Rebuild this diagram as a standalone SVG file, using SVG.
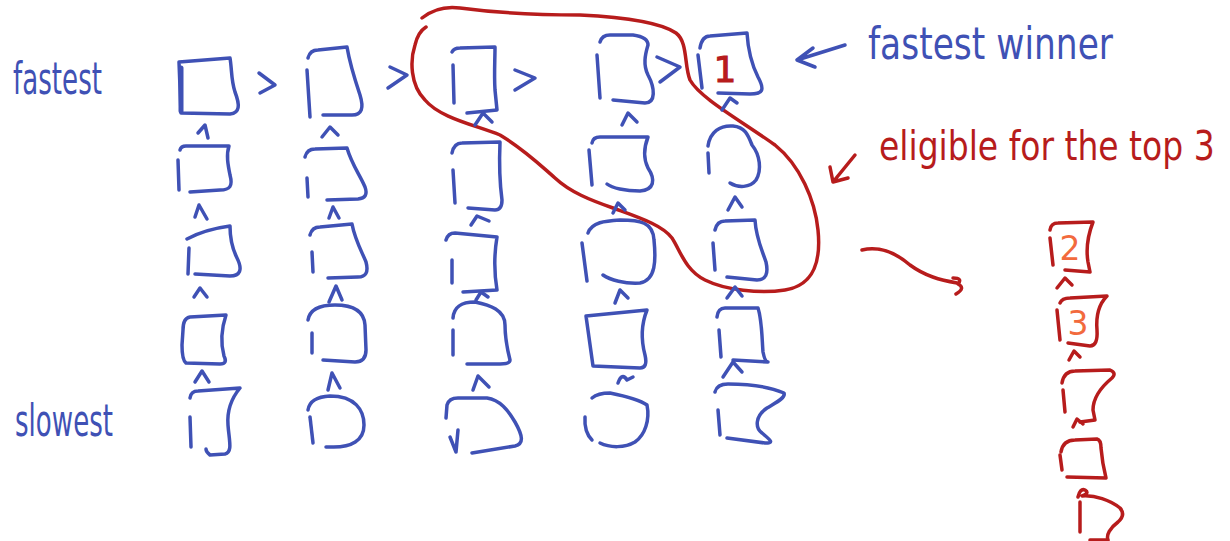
<svg xmlns="http://www.w3.org/2000/svg" width="1230" height="541" viewBox="0 0 1230 541">
<style>
.b{fill:none;stroke:#3f51b5;stroke-width:3.5;stroke-linecap:round;stroke-linejoin:round}
.r{fill:none;stroke:#b71c1c;stroke-width:3.5;stroke-linecap:round;stroke-linejoin:round}
.tb{fill:#3f51b5;font-family:"DejaVu Sans",sans-serif;font-size:44px}
.tr{fill:#b71c1c;font-family:"DejaVu Sans",sans-serif;font-size:33px}
.num{font-family:"DejaVu Sans",sans-serif;text-anchor:middle}
</style>
<rect width="1230" height="541" fill="#ffffff"/>

<g id="labels">
<text class="tb" x="13" y="94" textLength="89" lengthAdjust="spacingAndGlyphs">fastest</text>
<text class="tb" x="15" y="436" textLength="98" lengthAdjust="spacingAndGlyphs">slowest</text>
<text class="tb" x="868" y="59" textLength="245" lengthAdjust="spacingAndGlyphs">fastest winner</text>
<text class="tr" transform="translate(879,160) scale(1,1.25)" x="0" y="0">eligible for the top 3</text>
</g>

<g id="col1">
<g id="c1r1"><path class="b" d="M179,62 L230,58 C232,70 231,80 235,92 C240,105 240,113 230,114 L181,113 Z"/><path class="b" style="stroke-width:5" d="M181,68 L181,111"/></g>
<g id="c1r2"><path class="b" d="M180,150 Q181,146 186,146 L229,146 C226,155 228,165 230,175 C233,186 230,190 220,190 L190,192"/><path class="b" d="M178,160 L179,190"/></g>
<g id="c1r3"><path class="b" d="M187,239 C200,232 215,228 230,226 C230,240 232,248 237,258 C243,270 240,276 230,276 L195,274"/><path class="b" d="M189,248 L188,274"/></g>
<g id="c1r4"><path class="b" d="M183,330 Q183,318 190,317 L226,315 C221,330 221,345 224,356 Q228,364 220,364 L186,363 Q182,360 182,345 Z"/></g>
<g id="c1r5"><path class="b" d="M190,398 Q191,391 198,391 L240,388 C230,400 227,412 228,425 C229,440 233,452 225,454 L210,455 Q206,452 206,449"/><path class="b" d="M190,417 L191,447"/></g>
</g>

<g id="col2">
<g id="c2r1"><path class="b" d="M308,58 Q310,50 318,50 L347,47 C350,65 355,80 360,95 C364,108 362,115 352,115 L323,115"/><path class="b" d="M307,70 L310,117"/></g>
<g id="c2r2"><path class="b" d="M305,157 Q307,149 315,149 L347,148 C352,165 360,175 365,187 Q369,198 358,199 L327,200"/><path class="b" d="M307,178 L308,197"/></g>
<g id="c2r3"><path class="b" d="M310,235 Q312,227 320,227 L352,224 C355,240 362,252 366,262 Q370,277 358,277 L328,278"/><path class="b" d="M312,252 L313,272"/></g>
<g id="c2r4"><path class="b" d="M308,320 C310,308 322,305 335,305 C352,305 364,310 365,325 L366,350 Q366,362 355,362 L323,360"/><path class="b" d="M312,333 L312,353"/></g>
<g id="c2r5"><path class="b" d="M308,410 Q310,397 330,396 C355,396 364,410 364,425 C364,440 352,448 330,447 L326,447"/><path class="b" d="M310,417 L313,443"/></g>
</g>

<g id="col3">
<g id="c3r1"><path class="b" d="M452,52 Q454,48 460,48 L495,47 C495,60 494,75 495,90 L497,110 L467,113"/><path class="b" d="M453,65 L454,103"/></g>
<g id="c3r2"><path class="b" d="M452,153 Q454,143 462,143 L500,142 C499,165 500,185 502,200 Q502,210 495,210 L468,208"/><path class="b" d="M453,170 L455,203"/></g>
<g id="c3r3"><path class="b" d="M446,240 Q448,233 455,233 L497,237 C494,255 494,272 497,290 L463,292"/><path class="b" d="M452,260 L452,283"/></g>
<g id="c3r4"><path class="b" d="M453,318 C454,306 462,302 475,302 C490,305 505,310 505,325 C505,340 508,352 510,360 Q510,364 500,364 L467,364"/><path class="b" d="M453,330 L453,355"/></g>
<g id="c3r5"><path class="b" d="M446,418 L447,405 Q449,398 458,398 L487,398 C500,400 508,410 515,422 C523,436 524,444 515,446 L472,453"/><path class="b" d="M450,437 L456,452 L458,430"/></g>
</g>

<g id="col4">
<g id="c4r1"><path class="b" d="M600,42 Q602,35 610,35 L633,35 Q648,37 648,45 C645,55 643,65 648,75 C655,88 656,103 645,103 L613,100"/><path class="b" d="M597,55 L600,98"/></g>
<g id="c4r2"><path class="b" d="M592,143 Q593,137 600,137 L648,137 C643,150 644,160 648,168 C656,180 654,190 640,191 C625,191 612,188 607,184"/><path class="b" d="M589,150 L592,185"/></g>
<g id="c4r3"><path class="b" d="M588,233 C592,222 605,221 620,220 C640,220 653,222 654,240 C656,260 656,280 640,283 C625,284 610,280 603,275"/><path class="b" d="M582,243 L587,281"/></g>
<g id="c4r4"><path class="b" d="M586,316 L647,310 C641,325 641,340 645,355 Q648,368 640,368 L593,366 Z"/></g>
<g id="c4r5"><path class="b" d="M592,398 Q598,393 610,393 C625,396 640,400 647,405 C650,420 645,435 635,442 C625,448 610,448 600,443"/><path class="b" d="M585,417 Q584,432 592,440"/></g>
</g>

<g id="col5">
<g id="c5r1"><path class="b" d="M700,48 Q702,36 710,36 L747,33 C748,50 752,65 758,77 C765,90 763,94 750,94 L718,93"/><path class="b" d="M698,55 L702,88"/><text class="num" x="725" y="82" font-size="36" fill="#b71c1c" stroke="#b71c1c" stroke-width="1">1</text></g>
<g id="c5r2"><path class="b" d="M708,146 C710,132 720,125 733,126 C745,127 748,135 752,145 C760,155 762,170 756,180 C750,188 738,188 730,183"/><path class="b" d="M708,153 L709,173"/></g>
<g id="c5r3"><path class="b" d="M715,230 Q717,221 725,221 L755,220 C756,238 762,250 766,262 Q770,280 757,280 L727,277"/><path class="b" d="M713,243 L715,270"/></g>
<g id="c5r4"><path class="b" d="M717,317 Q718,308 725,308 L758,308 C762,320 762,340 763,352 Q765,362 768,362 L733,360"/><path class="b" d="M719,330 L721,357"/></g>
<g id="c5r5"><path class="b" d="M715,392 Q717,384 728,384 C750,384 770,387 784,393 C786,398 775,403 767,408 C755,416 755,428 762,433 C770,440 775,443 765,443 L727,438"/><path class="b" d="M718,410 L720,435"/></g>
</g>

<g id="top3">
<g id="t2"><path class="r" d="M1050,230 Q1051,223 1058,223 L1093,222 C1088,235 1086,250 1088,262 L1090,272 L1065,270"/><path class="r" d="M1050,238 L1053,265"/><text class="num" x="1070" y="260" font-size="33" fill="#f26a3d">2</text></g>
<g id="t3"><path class="r" d="M1060,303 Q1062,298 1070,298 L1107,296 C1098,305 1096,318 1097,330 Q1098,346 1090,346 L1068,343"/><path class="r" d="M1057,310 L1060,340"/><text class="num" x="1078" y="335" font-size="33" fill="#f26a3d">3</text></g>
<g id="t4"><path class="r" d="M1062,383 Q1064,371 1075,371 L1110,370 Q1117,373 1112,378 C1100,388 1093,398 1093,410 L1095,420 L1080,422"/><path class="r" d="M1063,390 L1065,412"/></g>
<g id="t5"><path class="r" d="M1061,452 Q1063,440 1075,440 L1097,439 Q1101,440 1101,448 C1102,460 1104,470 1106,478 L1067,477"/><path class="r" d="M1060,455 L1062,470"/></g>
<g id="t6"><path class="r" d="M1078,497 Q1080,488 1085,490 Q1090,493 1082,496 C1095,495 1110,500 1120,508 Q1126,515 1118,522 C1110,528 1106,535 1108,540 L1090,540"/><path class="r" d="M1080,502 L1080,532"/></g>
</g>

<g id="group-loop">
<path class="r" d="M422,18 C432,10 445,6 460,8 C490,12 530,15 580,15 C620,17 660,22 676,33 C688,42 684,65 690,80 C700,98 740,120 775,145 C800,165 815,200 818,230 C821,260 815,285 785,290 C760,294 725,290 705,280 C685,270 680,250 672,238 C662,225 640,218 613,208 C590,200 570,192 555,178 C540,165 525,150 500,135 C475,125 440,118 425,100 C410,85 410,60 415,45 Q418,32 426,27"/>
</g>

<g id="connectors">
<path class="b" d="M259,73 L275,85 L260,93"/>
<path class="b" d="M390,67 L407,75 L388,88"/>
<path class="b" d="M515,70 L535,78 L515,90"/>
<path class="b" d="M657,57 L680,67 L660,82"/>
<path class="b" d="M198,133 L205,125 L208,138"/>
<path class="b" d="M195,217 L199,205 L207,219"/>
<path class="b" d="M194,297 L200,288 L207,297"/>
<path class="b" d="M195,382 L202,371 L209,382"/>
<path class="b" d="M322,137 L330,127 L338,135"/>
<path class="b" d="M329,218 L333,207 L339,218"/>
<path class="b" d="M329,302 L336,286 L342,300"/>
<path class="b" d="M328,390 L332,373 L340,388"/>
<path class="b" d="M475,125 L483,113 L492,122"/>
<path class="b" d="M471,225 L477,216 L489,221"/>
<path class="b" d="M476,300 L481,292 L488,297"/>
<path class="b" d="M473,390 L478,376 L489,387"/>
<path class="b" d="M622,125 L628,113 L637,122"/>
<path class="b" d="M613,213 L618,203 L625,210"/>
<path class="b" d="M615,303 L620,290 L628,298"/>
<path class="b" d="M618,383 Q622,372 627,380 L633,377"/>
<path class="b" d="M722,110 L730,98 L737,103"/>
<path class="b" d="M728,210 L735,197 L742,207"/>
<path class="b" d="M727,298 L735,287 L742,296"/>
<path class="b" d="M723,377 L733,362 L742,372"/>
<path class="b" d="M845,45 L797,60 M813,48 L797,60 L815,67"/>
<path class="r" d="M855,155 L833,182 M830,167 L833,182 L848,178"/>
<path class="r" d="M1057,288 L1065,278 L1072,285"/>
<path class="r" d="M1069,360 L1074,351 L1080,357"/>
<path class="r" d="M1073,427 L1077,419 L1083,424"/>
<path class="r" d="M862,250 C880,246 895,252 910,265 C925,276 940,280 957,283 M953,278 Q963,278 958,284 Q966,288 956,294"/>
</g>
</svg>
